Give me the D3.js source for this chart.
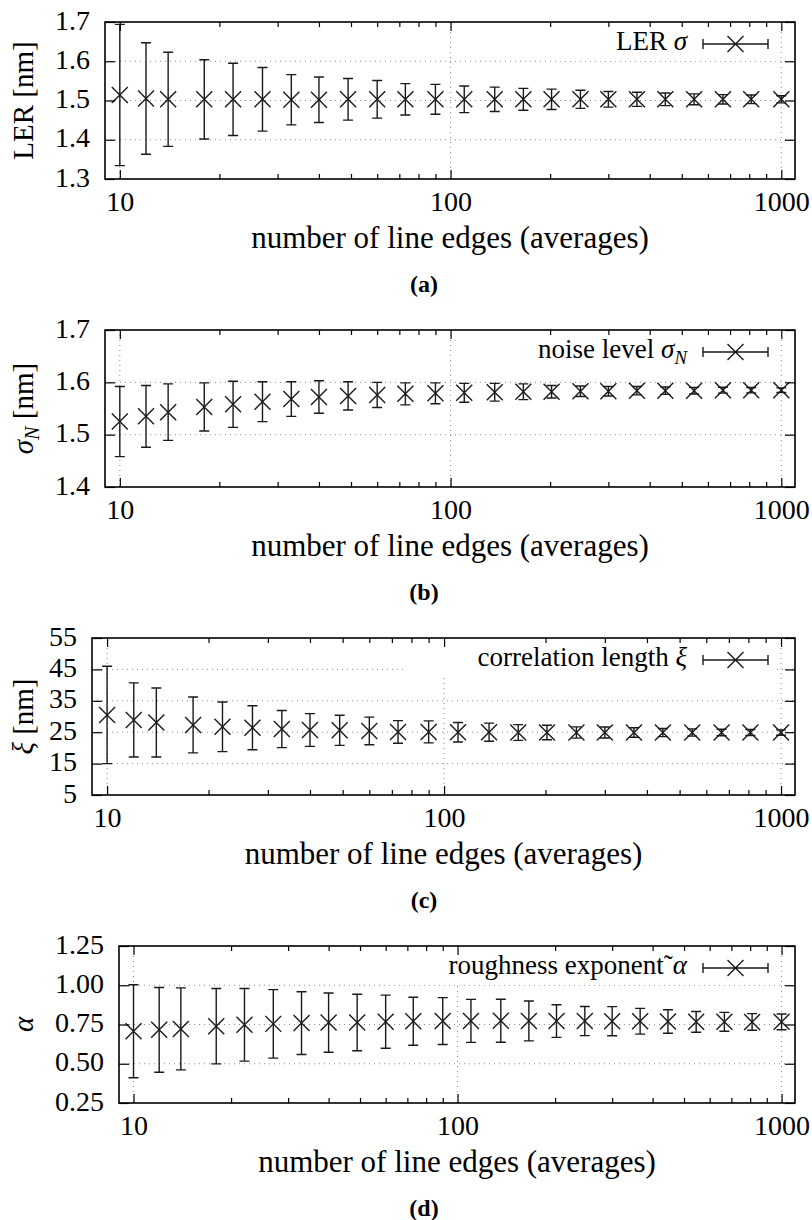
<!DOCTYPE html>
<html>
<head>
<meta charset="utf-8">
<script src="https://cdn.jsdelivr.net/npm/d3@7"></script>
<style>
  body { margin: 0; background: #fff; }
  svg text { font-family: "Liberation Serif", "DejaVu Serif", serif; fill: #000; }
  .grid { stroke: #8a8a8a; stroke-width: 1; stroke-dasharray: 1 4; }
  .bar { stroke: #1a1a1a; stroke-width: 1.4; fill: none; }
</style>
</head>
<body>
<svg id="chart" width="812" height="1220"></svg>
<script>
// number of line edges averaged (x values, log axis)
const edges = [10, 12, 14, 18, 22, 27, 33, 40, 49, 60, 73, 90, 110, 136, 166, 202, 247, 300, 366, 446, 545, 666, 811, 1000];

// (a) LER sigma [nm]
const lerMean = [1.514, 1.505, 1.503, 1.503, 1.503, 1.503, 1.502, 1.502, 1.503, 1.503, 1.503, 1.503, 1.503, 1.503, 1.503, 1.503, 1.503, 1.503, 1.503, 1.503, 1.503, 1.503, 1.503, 1.503];
const lerErr = [0.180, 0.142, 0.120, 0.101, 0.092, 0.081, 0.064, 0.058, 0.053, 0.048, 0.040, 0.038, 0.034, 0.031, 0.028, 0.026, 0.023, 0.020, 0.018, 0.016, 0.014, 0.012, 0.011, 0.009];

// (b) noise level sigma_N [nm]
const noiseMean = [1.525, 1.535, 1.543, 1.553, 1.558, 1.563, 1.568, 1.572, 1.574, 1.576, 1.578, 1.579, 1.580, 1.581, 1.582, 1.582, 1.583, 1.583, 1.584, 1.584, 1.584, 1.585, 1.585, 1.585];
const noiseErr = [0.067, 0.059, 0.054, 0.046, 0.044, 0.038, 0.033, 0.031, 0.027, 0.024, 0.021, 0.020, 0.018, 0.017, 0.015, 0.012, 0.010, 0.009, 0.008, 0.007, 0.0064, 0.0057, 0.0051, 0.0045];

// (c) correlation length xi [nm]
const corrMean = [30.5, 28.9, 28.1, 27.3, 26.7, 26.4, 26.0, 25.7, 25.6, 25.4, 25.1, 25.1, 25.0, 25.0, 24.9, 24.9, 24.9, 24.9, 24.9, 24.9, 24.9, 24.9, 24.9, 24.9];
const corrErr = [15.5, 11.8, 11.0, 8.9, 7.9, 7.0, 5.9, 5.2, 4.8, 4.4, 3.6, 3.5, 3.1, 2.9, 2.5, 2.3, 1.8, 1.75, 1.5, 1.3, 1.15, 1.05, 0.95, 0.85];

// (d) roughness exponent alpha
const alphaMean = [0.707, 0.716, 0.722, 0.739, 0.748, 0.754, 0.759, 0.762, 0.763, 0.768, 0.771, 0.772, 0.773, 0.774, 0.773, 0.772, 0.772, 0.771, 0.771, 0.769, 0.767, 0.767, 0.766, 0.767];
const alphaErr = [0.296, 0.270, 0.261, 0.240, 0.231, 0.218, 0.200, 0.189, 0.180, 0.169, 0.153, 0.149, 0.137, 0.137, 0.127, 0.104, 0.093, 0.093, 0.082, 0.075, 0.066, 0.060, 0.053, 0.050];

// tick values
const lerTicks = [1.3, 1.4, 1.5, 1.6, 1.7];
const noiseTicks = [1.4, 1.5, 1.6, 1.7];
const corrTicks = [5, 15, 25, 35, 45, 55];
const alphaTicks = [0.25, 0.5, 0.75, 1.0, 1.25];
const xMajor = [10, 100, 1000];
const xMinor = [20, 30, 40, 50, 60, 70, 80, 90, 200, 300, 400, 500, 600, 700, 800, 900];
const xTitle = "number of line edges (averages)";

const panels = [
    { tag: "(a)", mean: lerMean, err: lerErr, ticks: lerTicks, fmt: ".1f", left: 105, top: 22, keyLeft: 560,
      yLabel: [{ t: "LER [nm]" }],
      key: [{ t: "LER " }, { t: "σ", i: true }] },
    { tag: "(b)", mean: noiseMean, err: noiseErr, ticks: noiseTicks, fmt: ".1f", left: 105, top: 330, keyLeft: 500,
      yLabel: [{ t: "σ", i: true }, { t: "N", i: true, sub: true }, { t: " [nm]" }],
      key: [{ t: "noise level " }, { t: "σ", i: true }, { t: "N", i: true, sub: true }] },
    { tag: "(c)", mean: corrMean, err: corrErr, ticks: corrTicks, fmt: "d", left: 92, top: 638, keyLeft: 403,
      yLabel: [{ t: "ξ", i: true }, { t: " [nm]" }],
      key: [{ t: "correlation length " }, { t: "ξ", i: true }] },
    { tag: "(d)", mean: alphaMean, err: alphaErr, ticks: alphaTicks, fmt: ".2f", left: 119, top: 946, keyLeft: 380,
      yLabel: [{ t: "α", i: true }],
      key: [{ t: "roughness exponent˜" }, { t: "α", i: true }] }
];

const plotRight = 795;
const plotH = 157;
const keyRight = 776;
const keyTextEnd = 687;
const xDomain = [9.02, 1100];

const svg = d3.select("#chart");

function addSegments(text, segs) {
    segs.forEach((s, k) => {
        const ts = text.append("tspan").text(s.t);
        if (s.i) ts.attr("font-style", "italic");
        if (s.sub) ts.attr("font-size", "0.7em").attr("dy", 6);
        else if (k > 0 && segs[k - 1].sub) ts.attr("dy", -6);
    });
}

function styleAxis(sel, size) {
    sel.attr("font-family", null).attr("font-size", size);
    sel.select(".domain").remove();
    sel.selectAll(".tick line").attr("stroke", "#000").attr("stroke-width", 1.2);
}

panels.forEach(p => {
    const w = plotRight - p.left;
    const g = svg.append("g").attr("transform", `translate(${p.left},${p.top})`);

    const x = d3.scaleLog().domain(xDomain).range([0, w]);
    const y = d3.scaleLinear().domain(d3.extent(p.ticks)).range([plotH, 0]);

    // dotted grid
    g.append("g").selectAll("line")
        .data(p.ticks.slice(1, -1))
        .join("line")
        .attr("class", "grid")
        .attr("x1", 0).attr("x2", w)
        .attr("y1", d => y(d)).attr("y2", d => y(d));
    g.append("g").selectAll("line")
        .data(xMajor)
        .join("line")
        .attr("class", "grid")
        .attr("x1", d => x(d)).attr("x2", d => x(d))
        .attr("y1", 0).attr("y2", plotH);

    // opaque key box
    g.append("rect")
        .attr("x", p.keyLeft - p.left)
        .attr("y", 1)
        .attr("width", keyRight - p.keyLeft)
        .attr("height", 38)
        .attr("fill", "#fff");

    // error bars with x markers
    const pts = edges.map((n, i) => ({ n, m: p.mean[i], e: p.err[i] }));
    const pt = g.append("g").selectAll("g")
        .data(pts)
        .join("g")
        .attr("transform", d => `translate(${x(d.n)},0)`);
    pt.append("path")
        .attr("class", "bar")
        .attr("d", d => {
            const lo = y(d.m - d.e), hi = y(d.m + d.e);
            return `M0,${lo}V${hi}M-5,${lo}H5M-5,${hi}H5`;
        });
    pt.append("path")
        .attr("class", "bar")
        .attr("stroke", "#000")
        .attr("d", d => {
            const c = y(d.m);
            return `M-8,${c - 8}L8,${c + 8}M-8,${c + 8}L8,${c - 8}`;
        });

    // axes, ticks pointing inward
    g.append("g")
        .attr("transform", `translate(0,${plotH})`)
        .call(d3.axisBottom(x).tickValues(xMajor).tickSize(-9).tickPadding(12).tickFormat(d3.format("d")))
        .call(s => styleAxis(s, 28));
    g.append("g")
        .attr("transform", `translate(0,${plotH})`)
        .call(d3.axisBottom(x).tickValues(xMinor).tickSize(-5).tickFormat(""))
        .call(s => styleAxis(s, 28));
    g.append("g")
        .call(d3.axisTop(x).tickValues(xMajor).tickSize(-9).tickFormat(""))
        .call(s => styleAxis(s, 28));
    g.append("g")
        .call(d3.axisTop(x).tickValues(xMinor).tickSize(-5).tickFormat(""))
        .call(s => styleAxis(s, 28));
    g.append("g")
        .call(d3.axisLeft(y).tickValues(p.ticks).tickSize(-10).tickPadding(15).tickFormat(d3.format(p.fmt)))
        .call(s => styleAxis(s, 28))
        .selectAll("text").attr("dy", "0.25em");
    g.append("g")
        .attr("transform", `translate(${w},0)`)
        .call(d3.axisRight(y).tickValues(p.ticks).tickSize(-10).tickFormat(""))
        .call(s => styleAxis(s, 28));

    // frame
    g.append("rect")
        .attr("width", w).attr("height", plotH)
        .attr("fill", "none").attr("stroke", "#000").attr("stroke-width", 1.6);

    // key
    const ky = 22;
    const kt = g.append("text")
        .attr("x", keyTextEnd - p.left)
        .attr("y", ky + 6)
        .attr("text-anchor", "end")
        .attr("font-size", 27);
    addSegments(kt, p.key);
    const sx0 = 703 - p.left, sx1 = 768 - p.left, sc = (sx0 + sx1) / 2;
    g.append("path")
        .attr("class", "bar")
        .attr("d", `M${sx0},${ky}H${sx1}M${sx0},${ky - 5}V${ky + 5}M${sx1},${ky - 5}V${ky + 5}` +
            `M${sc - 8},${ky - 8}L${sc + 8},${ky + 8}M${sc - 8},${ky + 8}L${sc + 8},${ky - 8}`);

    // y label
    const yl = svg.append("text")
        .attr("transform", `translate(33,${p.top + plotH / 2}) rotate(-90)`)
        .attr("text-anchor", "middle")
        .attr("font-size", 29);
    addSegments(yl, p.yLabel);

    // x title
    svg.append("text")
        .attr("x", (p.left + plotRight) / 2)
        .attr("y", p.top + plotH + 69)
        .attr("text-anchor", "middle")
        .attr("font-size", 31)
        .text(xTitle);

    // sub-caption
    svg.append("text")
        .attr("x", 424)
        .attr("y", p.top + plotH + 113)
        .attr("text-anchor", "middle")
        .attr("font-size", 24)
        .attr("font-weight", "bold")
        .text(p.tag);
});
</script>
</body>
</html>
